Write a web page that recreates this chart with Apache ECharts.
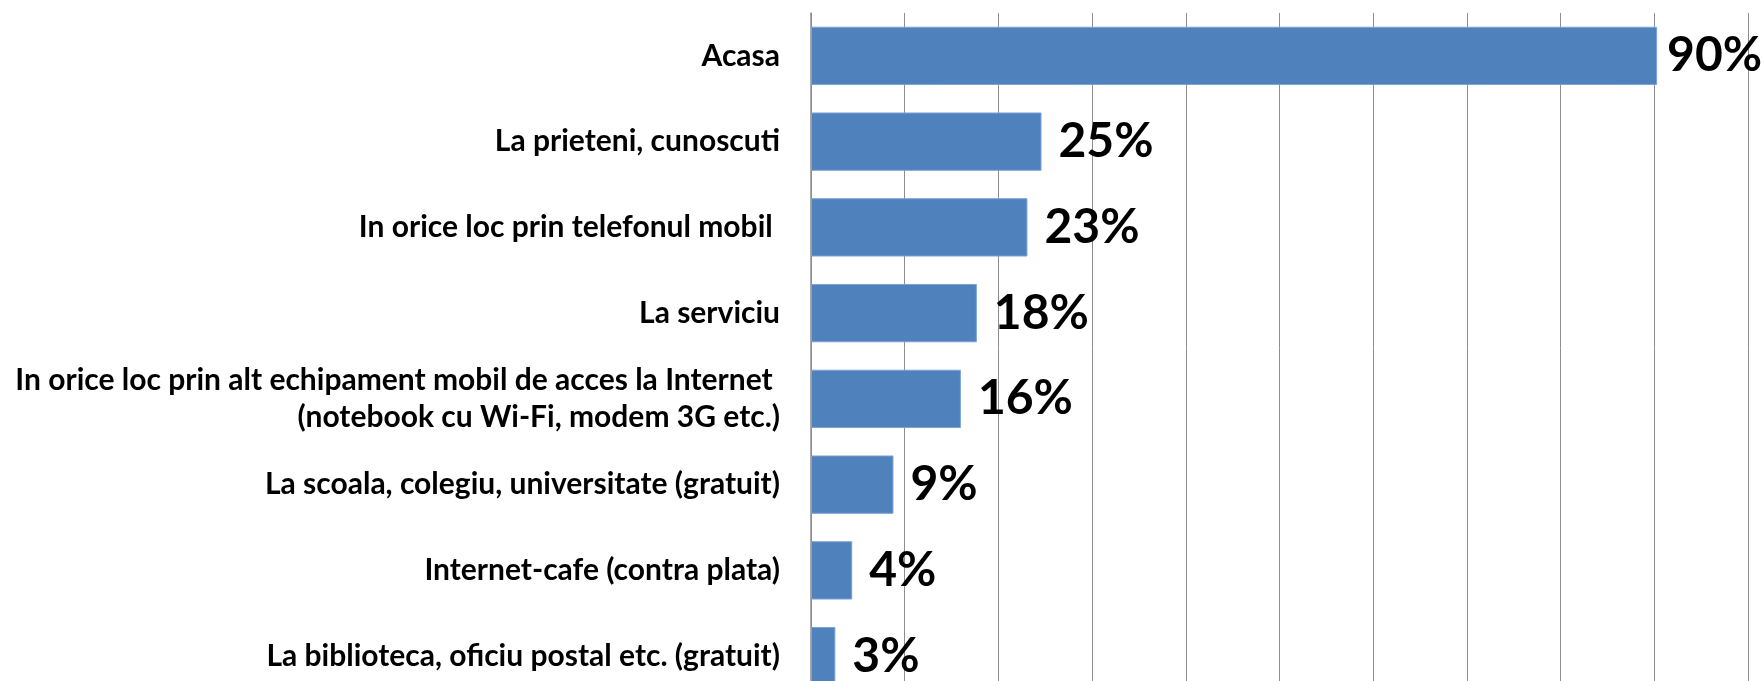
<!DOCTYPE html>
<html lang="ro">
<head>
  <meta charset="utf-8">
  <title>Locul de acces la Internet</title>
  <script src="https://cdn.jsdelivr.net/npm/echarts@6/dist/echarts.min.js"></script>
  <style>
    html, body { margin: 0; padding: 0; background: #fff; }
    #chart { width: 1762px; height: 681px; }
  </style>
</head>
<body>
  <div id="chart"></div>
  <script>
    // categorii (de sus in jos)
    var locuri = [
      'Acasa',
      'La prieteni, cunoscuti',
      'In orice loc prin telefonul mobil ',
      'La serviciu',
      'In orice loc prin alt echipament mobil de acces la Internet \n(notebook cu Wi-Fi, modem 3G etc.)',
      'La scoala, colegiu, universitate (gratuit)',
      'Internet-cafe (contra plata)',
      'La biblioteca, oficiu postal etc. (gratuit)'
    ];
    // procente citite de pe bare
    var procente = [90.3, 24.6, 23.1, 17.7, 16.0, 8.8, 4.4, 2.6];

    var chart = echarts.init(document.getElementById('chart'));
    var gri = '#8e8e8e';

    chart.setOption({
      animation: false,
      // graficul original e taiat jos, ultima banda iese din imagine
      grid: { left: 811, top: 13, right: 14, height: 686, outerBoundsMode: 'none' },
      xAxis: {
        type: 'value',
        min: 0,
        max: 100,
        interval: 10,
        axisLabel: { show: false },
        axisTick: { show: false },
        axisLine: { show: false },
        splitLine: { lineStyle: { color: gri, width: 1 } }
      },
      yAxis: {
        type: 'category',
        inverse: true,
        data: locuri,
        axisLine: { lineStyle: { color: gri, width: 1.5 } },
        axisTick: { length: 10, lineStyle: { color: gri, width: 1.5 } },
        axisLabel: {
          margin: 31,
          color: '#000',
          fontFamily: 'Lato',
          fontWeight: 'bold',
          fontSize: 30,
          lineHeight: 37,
          align: 'right'
        }
      },
      series: [{
        type: 'bar',
        data: procente.map(function (v, i) {
          // eticheta de 90% e lipita de bara ca sa incapa
          return i === 0 ? { value: v, label: { distance: 10 } } : v;
        }),
        barWidth: '68%',
        itemStyle: { color: '#4f81bd', borderColor: '#7ea2d2', borderWidth: 1 },
        label: {
          show: true,
          position: 'right',
          distance: 17,
          color: '#000',
          fontFamily: 'Lato',
          fontWeight: 'bold',
          fontSize: 48,
          formatter: function (p) { return Math.round(p.value) + '%'; }
        }
      }]
    });
  </script>
</body>
</html>
